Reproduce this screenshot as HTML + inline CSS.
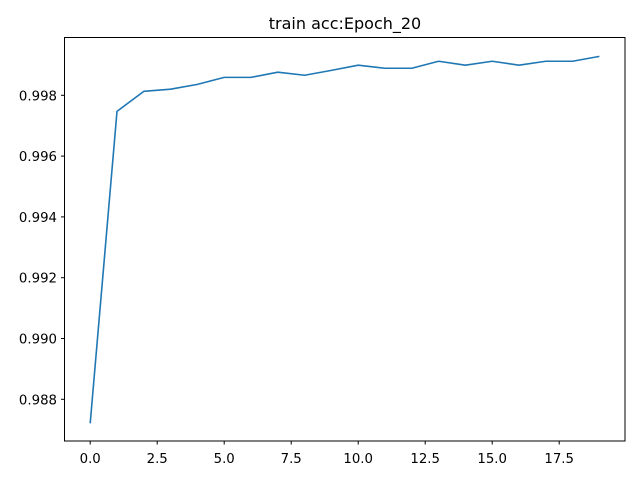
<!DOCTYPE html>
<html><head><meta charset="utf-8"><style>
body{margin:0;background:#fff;}
svg text{font-family:"DejaVu Sans","Liberation Sans",sans-serif;font-size:13.3px;fill:#000;}
</style></head><body>
<svg id="chart" width="640" height="480">
<rect width="640" height="480" fill="#fff"/>
<text x="345" y="29" text-anchor="middle" style="font-size:16px">train acc:Epoch_20</text>
<g id="ticks"></g>
<polyline id="line" fill="none" stroke="#1f77b4" stroke-width="1.6" stroke-linejoin="round"/>
<rect x="64.5" y="37.5" width="560.5" height="403.5" fill="none" stroke="#000" stroke-width="1"/>
</svg>
<script>
const epochs=[0,1,2,3,4,5,6,7,8,9,10,11,12,13,14,15,16,17,18,19];
const accValues=[0.98721,0.99747,0.99813,0.99820,0.99836,0.99859,0.99859,0.99876,0.99866,0.99882,0.99899,0.99889,0.99889,0.99912,0.99899,0.99912,0.99899,0.99912,0.99912,0.99928];
const xTicks=[0,2.5,5,7.5,10,12.5,15,17.5];
const xTickLabels=["0.0","2.5","5.0","7.5","10.0","12.5","15.0","17.5"];
const yTicks=[0.988,0.990,0.992,0.994,0.996,0.998];
const yTickLabels=["0.988","0.990","0.992","0.994","0.996","0.998"];
const xs=v=>90.2+v*26.8;
const ys=v=>95.3+(0.998-v)*30400;
const NS="http://www.w3.org/2000/svg";
const g=document.getElementById('ticks');
xTicks.forEach((t,i)=>{
 const l=document.createElementNS(NS,'line');
 l.setAttribute('x1',xs(t));l.setAttribute('x2',xs(t));l.setAttribute('y1',441);l.setAttribute('y2',444.5);l.setAttribute('stroke','#000');
 
 
 g.appendChild(l);
 const tx=document.createElementNS(NS,'text');
 tx.setAttribute('x',xs(t));tx.setAttribute('y',463);tx.setAttribute('text-anchor','middle');tx.textContent=xTickLabels[i];
 
 
 g.appendChild(tx);
});
yTicks.forEach((t,i)=>{
 const l=document.createElementNS(NS,'line');
 l.setAttribute('x1',61);l.setAttribute('x2',64.5);l.setAttribute('y1',ys(t));l.setAttribute('y2',ys(t));l.setAttribute('stroke','#000');
 
 
 g.appendChild(l);
 const tx=document.createElementNS(NS,'text');
 tx.setAttribute('x',57);tx.setAttribute('y',ys(t)+5);tx.setAttribute('text-anchor','end');tx.textContent=yTickLabels[i];
 
 
 g.appendChild(tx);
});
document.getElementById('line').setAttribute('points',epochs.map((e,i)=>xs(e)+','+ys(accValues[i])).join(' '));
</script>
</body></html>
